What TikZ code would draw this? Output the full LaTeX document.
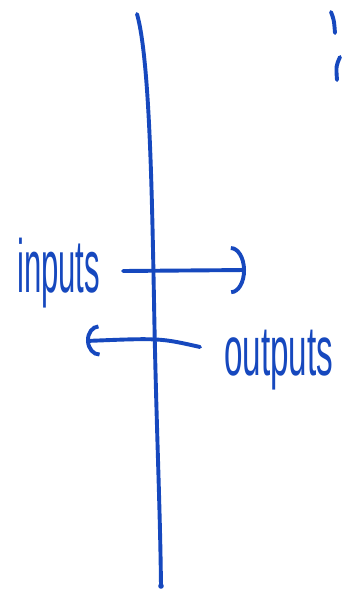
\documentclass[tikz,border=0pt]{standalone}
\usepackage{fontspec}
\setmainfont{Liberation Sans}
\usetikzlibrary{arrows.meta}
\definecolor{handblue}{RGB}{22,72,190}
\tikzset{
  pen/.style={draw=handblue, line width=3.9pt, line cap=round, line join=round},
  label/.style={inner sep=0pt, text=handblue, anchor=north west},
}
\begin{document}
\begin{tikzpicture}[x=1pt,y=-1pt]
\useasboundingbox[fill=white] (0,0) rectangle (341,594);
% vertical divider
\coordinate (top) at (137,14);
\coordinate (bot) at (161,586);
\draw[pen] (top) .. controls (150,60) and (152,200) .. (154,300)
  .. controls (156,420) and (160,500) .. (bot);
\fill[handblue] (bot) circle (2.8pt);
% texts
\node[label] (in) at (17,238) {\resizebox*{83pt}{70pt}{inputs}};
\node[label] (out) at (224,330) {\resizebox*{109pt}{60pt}{outputs}};
% arrows
\coordinate (ia) at (123,271);
\coordinate (ib) at (246,270);
\draw[pen, -{Arc Barb[length=15pt,width=48pt]}] (ia) -- (ib);
\coordinate (oa) at (200,347);
\coordinate (ob) at (86,341);
\draw[pen, -{Arc Barb[length=13pt,width=32pt]}] (oa) .. controls (160,338) .. (ob);
% clipped mark at top right
\coordinate (m1) at (331,12);
\coordinate (m2) at (335,33);
\coordinate (m3) at (340,57);
\coordinate (m4) at (337,80);
\draw[pen] (m1) .. controls (334,20) .. (m2);
\draw[pen] (m3) .. controls (336,66) .. (m4);
\end{tikzpicture}
\end{document}
